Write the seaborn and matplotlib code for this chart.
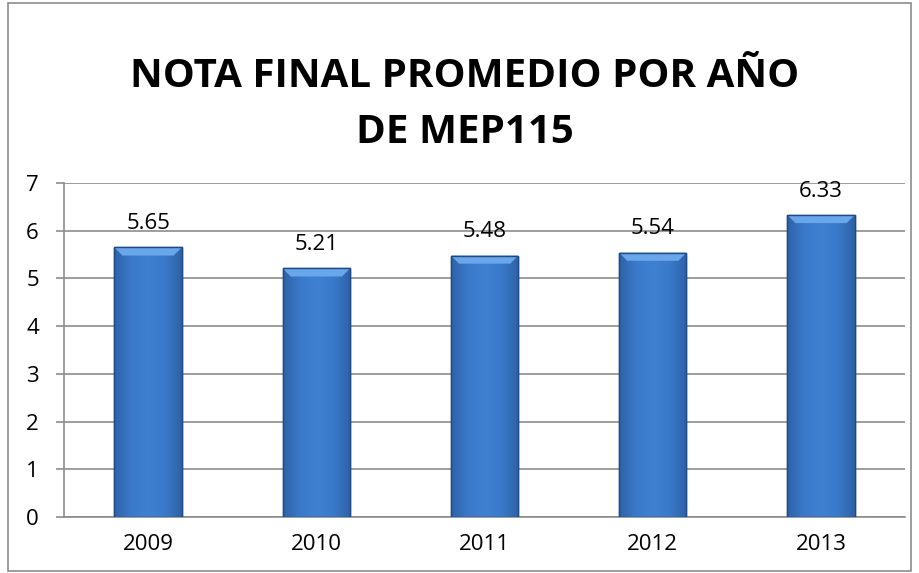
#Import the libraries : Pandas, Matplotlib and Seaborn
import numpy as np
import pandas as pd
import matplotlib.pyplot as plt
import seaborn as sns
from matplotlib.patches import Rectangle, Polygon
from matplotlib.colors import LinearSegmentedColormap

#Chart data
years = ["2009", "2010", "2011", "2012", "2013"]
notas = [5.65, 5.21, 5.48, 5.54, 6.33]
label_text = ["5.65", "5.21", "5.48", "5.54", "6.33"]

data = pd.DataFrame({"year": years, "nota": notas})

sns.set_style("white")
plt.rcParams['font.family'] = ['Open Sans', 'DejaVu Sans']
plt.rcParams['text.color'] = 'black'
plt.rcParams['xtick.labelcolor'] = 'black'
plt.rcParams['ytick.labelcolor'] = 'black'

fig = plt.figure(figsize=(9.19, 5.73), dpi=100)
ax = fig.add_axes([0.0696, 0.0977, 0.9154, 0.5829])

#Outer chart border
fig.patches.append(Rectangle((0.009, 0.004), 0.982, 0.99, transform=fig.transFigure,
                             fill=False, edgecolor="#8c8c8c", linewidth=1.2))

sns.barplot(data=data, x="year", y="nota", color="#3c7ccb", width=0.4,
            edgecolor="#1f4a85", linewidth=1.0, saturation=1, ax=ax, zorder=3)

#Fake the bevelled gradient fill of the bars
grad = LinearSegmentedColormap.from_list("bevel", ["#2e62a6", "#3b7acb", "#3f80d0", "#3b7acb", "#2e62a6"])
shade = np.linspace(0, 1, 64).reshape(1, -1)
for bar in ax.patches:
    x0, y0 = bar.get_x(), bar.get_y()
    w, h = bar.get_width(), bar.get_height()
    img = ax.imshow(shade, cmap=grad, extent=[x0, x0 + w, y0, y0 + h], aspect="auto",
                    zorder=3.2, interpolation="bicubic")
    img.set_clip_path(bar)
    d = w * 0.12
    top = Polygon([[x0, y0 + h], [x0 + w, y0 + h], [x0 + w - d, y0 + h - 0.17], [x0 + d, y0 + h - 0.17]],
                  closed=True, facecolor="#6aa6ea", edgecolor="none", zorder=3.4)
    ax.add_patch(top)
    ax.add_patch(Rectangle((x0, y0), w, h, fill=False, edgecolor="#1f4a85", linewidth=1.0, zorder=3.5))

#Value labels above the bars
for i, v in enumerate(notas):
    ax.text(i, v + 0.28, label_text[i], ha="center", va="bottom", fontsize=16, color="black", zorder=4)

ax.set_ylim(0, 7)
ax.set_xlim(-0.5, 4.5)
ax.set_yticks(range(0, 8))
ax.yaxis.grid(True, color="#8c8c8c", linewidth=1.2, zorder=0)
ax.set_axisbelow(True)
ax.set_xlabel("")
ax.set_ylabel("")

#Ticks at category boundaries on x
ax.set_xticks([-0.5, 0.5, 1.5, 2.5, 3.5, 4.5], minor=True)
ax.tick_params(axis="x", which="major", length=0, labelsize=16, pad=12, labelcolor="black")
ax.tick_params(axis="x", which="minor", length=6, width=1.2, color="#8c8c8c", direction="out")
ax.tick_params(axis="y", which="major", length=6, width=1.2, color="#8c8c8c", direction="out",
               labelsize=16, pad=12, left=True, labelcolor="black")

for side in ["top", "right"]:
    ax.spines[side].set_visible(False)
for side in ["left", "bottom"]:
    ax.spines[side].set_color("#8c8c8c")
    ax.spines[side].set_linewidth(1.2)

fig.text(0.506, 0.818, "NOTA FINAL PROMEDIO POR AÑO\nDE MEP115", ha="center", va="center",
         fontsize=29, fontweight="bold", linespacing=1.55, color="black")

fig.savefig("out.png", dpi=100)
